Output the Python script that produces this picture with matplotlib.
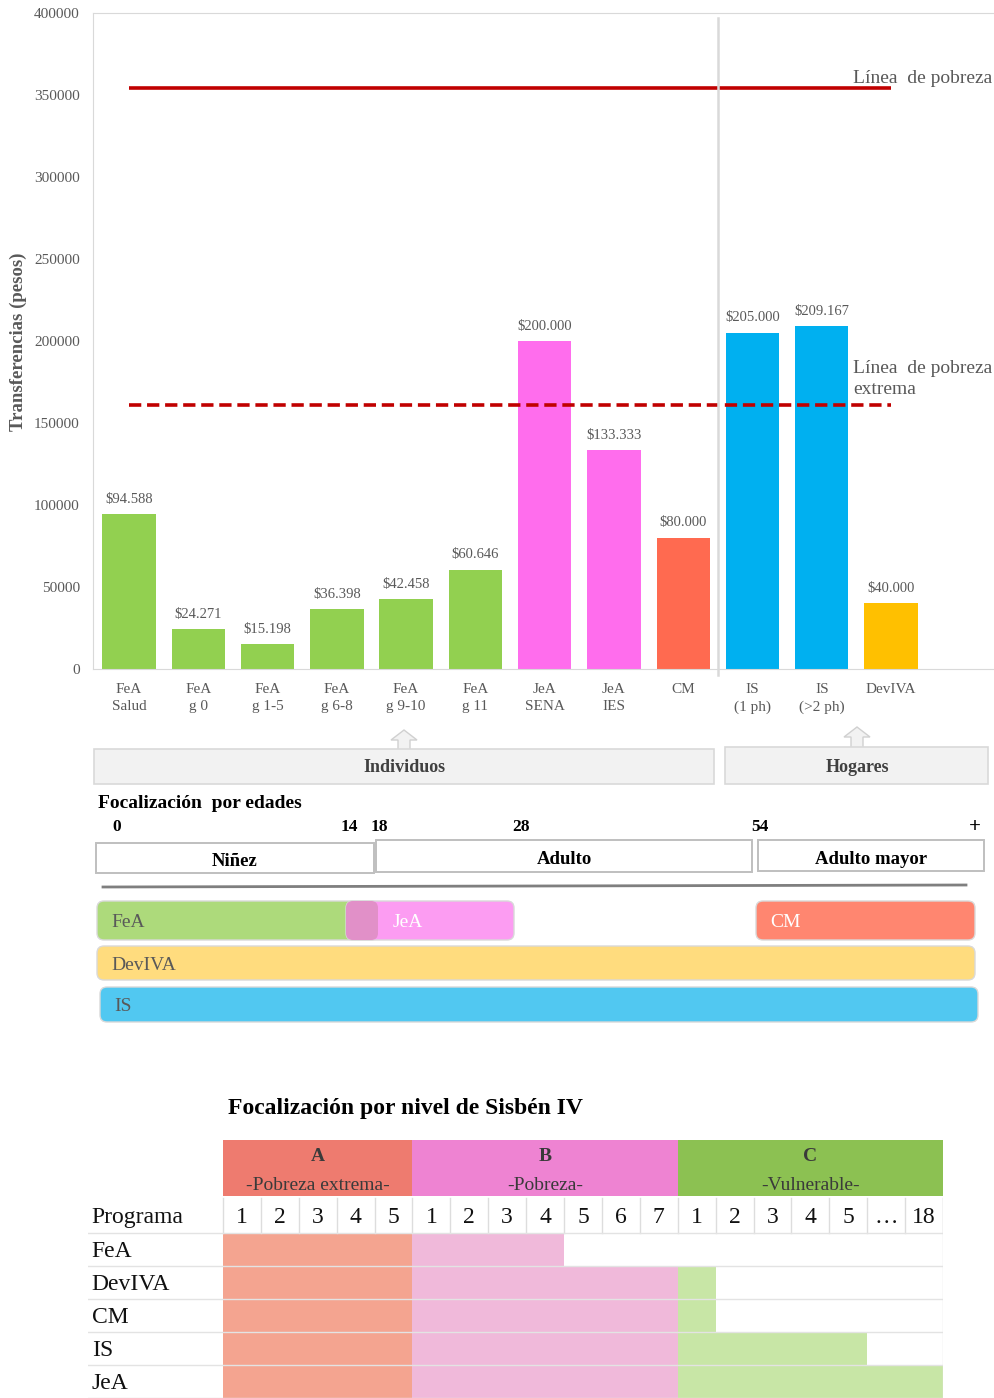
import numpy as np
import matplotlib.pyplot as plt
import matplotlib.patches as mpatches

plt.rcParams['font.family'] = ['Liberation Serif', 'DejaVu Serif']

W, H = 995, 1398

# monthly transfer per program (pesos)
programs = ['FeA\nSalud', 'FeA\ng 0', 'FeA\ng 1-5', 'FeA\ng 6-8', 'FeA\ng 9-10', 'FeA\ng 11',
            'JeA\nSENA', 'JeA\nIES', 'CM', 'IS\n(1 ph)', 'IS\n(>2 ph)', 'DevIVA']
transfers = [94588, 24271, 15198, 36398, 42458, 60646,
             200000, 133333, 80000, 205000, 209167, 40000]
bar_colors = ['#92D050'] * 6 + ['#FF6DED'] * 2 + ['#FF6A50'] + ['#00B0F0'] * 2 + ['#FFC000']

poverty_line = 354031
extreme_poverty_line = 161099

# age targeting
age_marks = ['0', '14', '18', '28', '54', '+']
age_groups = ['Niñez', 'Adulto', 'Adulto mayor']
age_programs = ['FeA', 'JeA', 'CM', 'DevIVA', 'IS']
age_spans = [(0, 2), (1, 3), (4, 5), (0, 5), (0, 5)]  # indices into age_marks

# Sisbén IV targeting
sisben_groups = ['A', 'B', 'C']
sisben_names = ['-Pobreza extrema-', '-Pobreza-', '-Vulnerable-']
sisben_levels = [['1', '2', '3', '4', '5'],
                 ['1', '2', '3', '4', '5', '6', '7'],
                 ['1', '2', '3', '4', '5', '…', '18']]
table_programs = ['FeA', 'DevIVA', 'CM', 'IS', 'JeA']
covered_A = [5, 5, 5, 5, 5]
covered_B = [4, 7, 7, 7, 7]
covered_C = [0, 1, 1, 5, 7]

GRAY = '#595959'


def px_box(x0, y0, x1, y1):
    return [x0 / W, 1 - y1 / H, (x1 - x0) / W, (y1 - y0) / H]


fig = plt.figure(figsize=(W / 100, H / 100), dpi=100)

# ---- bar chart ----
ax = fig.add_axes(px_box(93, 13, 995, 669))
x = np.arange(len(programs))
ax.bar(x, transfers, width=0.77, color=bar_colors, zorder=2)
for xi, v in zip(x, transfers):
    ax.annotate(f'${v:,}'.replace(',', '.'), (xi, v), xytext=(0, 6),
                textcoords='offset points', ha='center', va='bottom',
                fontsize=10.5, color=GRAY)

ax.hlines(poverty_line, 0, 11, color='#C00000', lw=2.6, zorder=3)
ax.hlines(extreme_poverty_line, 0, 11, color='#C00000', lw=2.6,
          linestyles=[(0, (3.4, 1.6))], zorder=3)
ax.annotate('Línea  de pobreza', (10.45, poverty_line), xytext=(0, 1),
            textcoords='offset points', va='bottom', ha='left',
            fontsize=14, color=GRAY)
ax.annotate('Línea  de pobreza\nextrema', (10.45, extreme_poverty_line), xytext=(0, 5),
            textcoords='offset points', va='bottom', ha='left',
            fontsize=14, color=GRAY, linespacing=1.3)

# individuals / households divider
ax.plot([8.5, 8.5], [-3700, 397000], color='#D9D9D9', lw=1.8, clip_on=False, zorder=4)

ax.set_xlim(-0.52, 12.50)
ax.set_ylim(0, 400000)
ax.set_yticks(range(0, 400001, 50000))
ax.set_xticks(x, programs)
for lbl in ax.get_xticklabels():
    lbl.set_linespacing(1.45)
ax.tick_params(length=0, labelsize=11, colors=GRAY)
ax.tick_params(axis='y', pad=9.5)
ax.tick_params(axis='x', pad=10)
for side in ['left', 'top', 'bottom']:
    ax.spines[side].set_color('#D9D9D9')
ax.spines['right'].set_visible(False)

fig.text(18 / W, 1 - 342 / H, 'Transferencias (pesos)', rotation=90,
         ha='center', va='center', fontsize=13.5, fontweight='bold', color=GRAY)

# ---- age targeting diagram (pixel units) ----
oax = fig.add_axes(px_box(0, 715, 995, 1040))
oax.set_xlim(0, 995)
oax.set_ylim(1040, 715)
oax.axis('off')


def block_arrow(cx, yb, yt):
    ym = yt + 10
    pts = [(cx - 6, yb), (cx - 6, ym), (cx - 13, ym), (cx, yt),
           (cx + 13, ym), (cx + 6, ym), (cx + 6, yb)]
    oax.add_patch(mpatches.Polygon(pts, closed=True, fc='#F2F2F2', ec='#D0D0D0', lw=1))


block_arrow(404, 752, 730)
block_arrow(857, 750, 727)
oax.add_patch(mpatches.Rectangle((94, 749), 620, 35, fc='#F2F2F2', ec='#D9D9D9', lw=1.2))
oax.add_patch(mpatches.Rectangle((725, 747), 263, 37, fc='#F2F2F2', ec='#D9D9D9', lw=1.2))
oax.text(404, 768, 'Individuos', ha='center', va='center', fontsize=13,
         fontweight='bold', color='#404040')
oax.text(857, 767, 'Hogares', ha='center', va='center', fontsize=13,
         fontweight='bold', color='#404040')

oax.text(98, 803, 'Focalización  por edades', ha='left', va='center',
         fontsize=14, fontweight='bold', color='black')

mark_label_x = [117, 349, 379, 521, 760, 975]
for lx, m in zip(mark_label_x, age_marks):
    oax.text(lx, 827, m, ha='center', va='center', fontsize=15 if m == '+' else 12.5,
             fontweight='bold', color='black')

group_boxes = [(96, 843, 374, 873), (376, 840, 752, 872), (758, 840, 984, 871)]
for (x0, y0, x1, y1), name in zip(group_boxes, age_groups):
    oax.add_patch(mpatches.Rectangle((x0, y0), x1 - x0, y1 - y0, fc='white',
                                     ec='#BFBFBF', lw=1.4))
    oax.text((x0 + x1) / 2, (y0 + y1) / 2 + 4, name, ha='center', va='center',
             fontsize=13.5, fontweight='bold', color='black')

oax.plot([103, 966], [887, 885], color='#7F7F7F', lw=2)

mark_x = [97, 346, 378, 514, 756, 975]
row_y = [901, 901, 901, 946, 987]
row_h = [39, 39, 39, 34, 35]
prog_fill = ['#ADDA7B', '#FC9CF2', '#FF8670', '#FFDC7E', '#51C8F1']
prog_text = [GRAY, 'white', 'white', GRAY, GRAY]
shift = [0, 0, 0, 0, 3]

# FeA / JeA overlap between 14 and 18 years
ov0, ov1 = mark_x[age_spans[1][0]], mark_x[age_spans[0][1]]

for name, (s, e), y0, h, fc, tc, dx in zip(age_programs, age_spans, row_y, row_h,
                                            prog_fill, prog_text, shift):
    x0, x1 = mark_x[s] + dx, mark_x[e] + dx
    oax.add_patch(mpatches.FancyBboxPatch((x0, y0), x1 - x0, h,
                                          boxstyle='round,pad=0,rounding_size=7',
                                          fc=fc, ec='#D9D9D9', lw=1))
    tx = ov1 + 15 if name == 'JeA' else x0 + 14
    oax.text(tx, y0 + h / 2 + 2, name, ha='left', va='center',
             fontsize=14, color=tc)

oax.add_patch(mpatches.FancyBboxPatch((ov0, row_y[0]), ov1 - ov0, row_h[0],
                                      boxstyle='round,pad=0,rounding_size=7',
                                      fc='#E190C8', ec='none'))

# ---- Sisbén IV table (column / row units) ----
tax = fig.add_axes(px_box(88, 1090, 943, 1398))
tax.set_xlim(-3.56, 19)
tax.set_ylim(5, -4.33)
tax.axis('off')

tax.text(0.13, -3.78, 'Focalización por nivel de Sisbén IV', ha='left', va='center',
         fontsize=17, fontweight='bold', color='black')

head_colors = ['#EE7B6F', '#EE83D2', '#8CC152']
cell_colors = ['#F4A490', '#F0B9DA', '#C8E6A6']
coverage = [covered_A, covered_B, covered_C]

start = 0
starts = []
for g, levels in enumerate(sisben_levels):
    n = len(levels)
    starts.append(start)
    tax.add_patch(mpatches.Rectangle((start, -2.82), n, 1.70, fc=head_colors[g], ec='none'))
    tax.text(start + n / 2, -2.33, sisben_groups[g], ha='center', va='center',
             fontsize=14, fontweight='bold', color='#3A3A3A')
    tax.text(start + n / 2, -1.45, sisben_names[g], ha='center', va='center',
             fontsize=14, color='#3A3A3A')
    for k, lev in enumerate(levels):
        tax.text(start + k + 0.5, -0.48, lev, ha='center', va='center',
                 fontsize=17, color='#111111')
    start += n
n_cols = start

tax.text(-3.46, -0.48, 'Programa', ha='left', va='center', fontsize=17, color='#111111')
for c in range(n_cols + 1):
    tax.plot([c, c], [-1.06, 0], color='#DDDDDD', lw=1)

for i, prog in enumerate(table_programs):
    tax.text(-3.46, i + 0.55, prog, ha='left', va='center', fontsize=17, color='#111111')
    for g in range(3):
        n = coverage[g][i]
        if n:
            tax.add_patch(mpatches.Rectangle((starts[g], i), n, 1,
                                             fc=cell_colors[g], ec='none'))

for r in range(0, 6):
    tax.plot([-3.56, n_cols], [r, r], color='#E3E3E3', lw=1)
tax.plot([n_cols, n_cols], [-1.06, 5], color='#E3E3E3', lw=1)

fig.savefig('out.png', dpi=100)
